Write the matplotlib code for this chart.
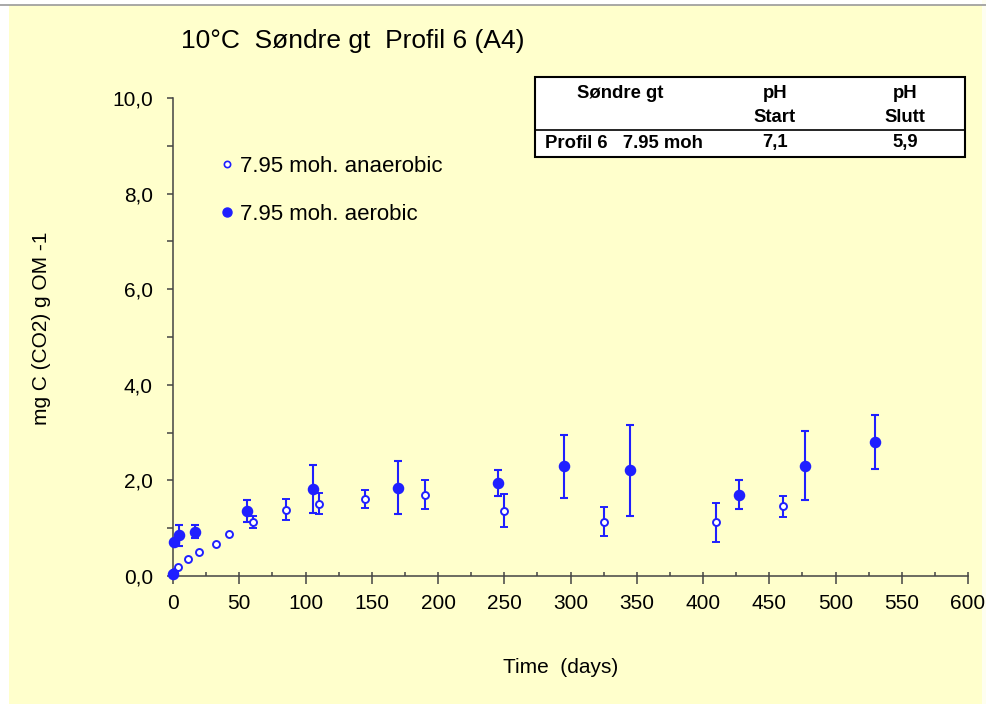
import numpy as np
import matplotlib
matplotlib.use("Agg")
import matplotlib.pyplot as plt
from matplotlib.lines import Line2D
from matplotlib.patches import Rectangle
from matplotlib.ticker import MultipleLocator, FuncFormatter

plt.rcParams['font.family'] = ['Liberation Sans', 'DejaVu Sans']

# CO2 release, anaerobic incubation (open symbols)
anaer_days = [0.5, 4, 11, 20, 32.5, 42, 60.5, 85, 110, 145, 190, 250, 325, 410, 460]
anaer_vals = [0.08, 0.19, 0.36, 0.51, 0.66, 0.88, 1.13, 1.39, 1.51, 1.61, 1.70, 1.37, 1.14, 1.12, 1.46]
anaer_err = [np.nan, np.nan, np.nan, np.nan, np.nan, np.nan, 0.13, 0.22, 0.22, 0.19, 0.30, 0.34, 0.30, 0.41, 0.22]

# CO2 release, aerobic incubation (filled symbols)
aer_days = [0, 0.5, 4.5, 16.5, 56, 106, 170, 245, 295, 345, 427, 477, 530]
aer_vals = [0.04, 0.72, 0.85, 0.93, 1.36, 1.82, 1.85, 1.95, 2.30, 2.21, 1.70, 2.31, 2.80]
aer_err = [np.nan, np.nan, 0.22, 0.14, 0.24, 0.51, 0.56, 0.27, 0.66, 0.95, 0.30, 0.72, 0.57]

series_labels = ["7.95 moh. anaerobic", "7.95 moh. aerobic"]
title_text = "10\u00b0C  S\u00f8ndre gt  Profil 6 (A4)"
xlabel_text = "Time  (days)"
ylabel_text = "mg C (CO2) g OM -1"

# pH summary table
table_header = [["S\u00f8ndre gt", ""], ["pH", "Start"], ["pH", "Slutt"]]
table_row = ["Profil 6   7.95 moh", "7,1", "5,9"]

BLUE = "#1F1FFF"
BG = "#FFFFCC"
AXC = "#444444"

W, H = 987, 704
fig = plt.figure(figsize=(W / 100, H / 100), dpi=100, facecolor=BG)

def fx(px):
    return px / W

def fy(py):
    return 1 - py / H

# page edges
fig.add_artist(Rectangle((0, fy(4.5)), 1, 1 - fy(4.5), transform=fig.transFigure,
                         facecolor="white", edgecolor="none", zorder=0))
fig.add_artist(Rectangle((0, 0), fx(9), 1, transform=fig.transFigure,
                         facecolor="white", edgecolor="none", zorder=0))
fig.add_artist(Rectangle((fx(982), 0), 1 - fx(982), 1, transform=fig.transFigure,
                         facecolor="#FEFEF0", edgecolor="none", zorder=0))
fig.add_artist(Line2D([0, 1], [fy(4.5), fy(4.5)], transform=fig.transFigure,
                      color="#999999", lw=1.2))

ax = fig.add_axes([fx(173), fy(576), fx(968) - fx(173), fy(98) - fy(576)])
ax.set_facecolor("none")

ax.errorbar(anaer_days, anaer_vals, yerr=anaer_err, fmt='o', color=BLUE,
            markersize=5.0, markerfacecolor="white", markeredgecolor=BLUE,
            markeredgewidth=1.4, ecolor=BLUE, elinewidth=1.5, capsize=3, capthick=1.5,
            clip_on=False, zorder=3)
ax.errorbar(aer_days, aer_vals, yerr=aer_err, fmt='o', color=BLUE,
            markersize=7.3, markerfacecolor=BLUE, markeredgecolor=BLUE,
            ecolor=BLUE, elinewidth=1.5, capsize=3, capthick=1.5,
            clip_on=False, zorder=4)

ax.set_xlim(0, 600)
ax.set_ylim(0, 10)
ax.xaxis.set_major_locator(MultipleLocator(50))
ax.xaxis.set_minor_locator(MultipleLocator(25))
ax.xaxis.remove_overlapping_locs = False
ax.yaxis.set_major_locator(MultipleLocator(2))
ax.yaxis.set_minor_locator(MultipleLocator(1))
ax.yaxis.set_major_formatter(FuncFormatter(lambda v, p: f"{v:.1f}".replace(".", ",")))

for s in ("top", "right"):
    ax.spines[s].set_visible(False)
for s in ("left", "bottom"):
    ax.spines[s].set_color(AXC)
    ax.spines[s].set_linewidth(1.1)

ax.tick_params(axis='x', which='major', direction='out', length=6, width=1.1,
               color=AXC, labelsize=15, pad=7)
ax.tick_params(axis='x', which='minor', direction='in', length=3, width=1.1, color=AXC)
ax.tick_params(axis='y', which='both', direction='out', length=4.5, width=1.1,
               color=AXC, labelsize=15, pad=10)

ax.set_xlabel(xlabel_text, fontsize=15)
ax.xaxis.set_label_coords((561 - 173) / 795, -(658 - 576) / 478)
ax.set_ylabel(ylabel_text, fontsize=15)
ax.yaxis.set_label_coords(-(173 - 51) / 795, (576 - 328) / 478)

fig.text(fx(181), fy(41), title_text, fontsize=19, ha='left', va='center')

handles = [
    Line2D([], [], linestyle='none', marker='o', markersize=4.5, markerfacecolor='white',
           markeredgecolor=BLUE, markeredgewidth=1.2),
    Line2D([], [], linestyle='none', marker='o', markersize=6.5, markerfacecolor=BLUE,
           markeredgecolor=BLUE),
]
ax.legend(handles, series_labels, loc='upper left', frameon=False,
          bbox_to_anchor=(fx(219), fy(156)), bbox_transform=fig.transFigure,
          fontsize=16, handlelength=0.7, handletextpad=0.25, labelspacing=1.22,
          borderpad=0, borderaxespad=0)

# pH table
fig.add_artist(Rectangle((fx(535), fy(157)), fx(965) - fx(535), fy(77) - fy(157),
                         transform=fig.transFigure, facecolor="white",
                         edgecolor="black", lw=1.5, zorder=5))
fig.add_artist(Line2D([fx(535), fx(965)], [fy(130), fy(130)], transform=fig.transFigure,
                      color="black", lw=1.2, zorder=6))
col_x = [620, 775, 905]
TFS = 13.3
for cx, (l1, l2) in zip(col_x, table_header):
    fig.text(fx(cx), fy(93), l1, fontsize=TFS, fontweight='bold', ha='center',
             va='center', zorder=7)
    if l2:
        fig.text(fx(cx), fy(117), l2, fontsize=TFS, fontweight='bold', ha='center',
                 va='center', zorder=7)
fig.text(fx(545), fy(143), table_row[0], fontsize=TFS, fontweight='bold', ha='left',
         va='center', zorder=7)
for cx, val in zip(col_x[1:], table_row[1:]):
    fig.text(fx(cx), fy(143), val, fontsize=TFS, fontweight='bold', ha='center',
             va='center', zorder=7)

fig.savefig("out.png", dpi=100, facecolor=BG)
